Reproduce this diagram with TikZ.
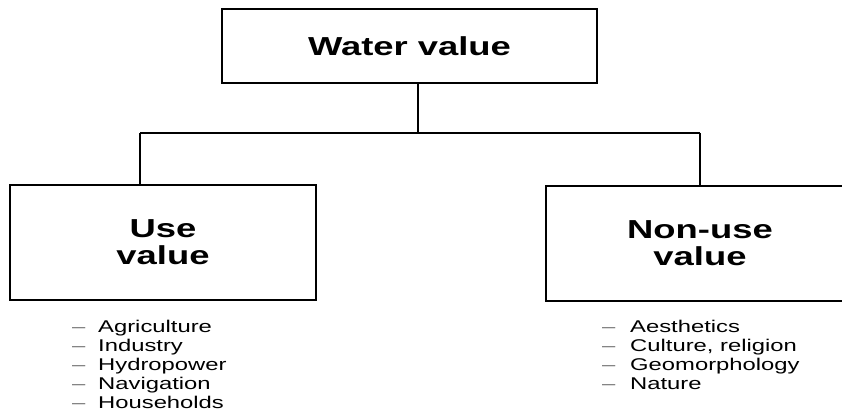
\documentclass[tikz,border=0pt]{standalone}
\usepackage{fontspec}
\setmainfont{Liberation Sans}[FakeStretch=1.4]
\usepackage{tikz}

\begin{document}
\begin{tikzpicture}[x=1pt,y=1pt]
\tikzstyle{box}=[draw, line width=1.6pt, inner sep=0pt, align=center,
  font=\fontsize{26}{27}\selectfont\bfseries]
\tikzstyle{link}=[line width=1.6pt]
\tikzstyle{item}=[anchor=west, inner sep=0pt, text height=12pt, text depth=3.5pt,
  font=\fontsize{17}{19}\selectfont]
\useasboundingbox (0,0) rectangle (842,-414);
\node at (409.5,-46) [box, minimum width=375pt, minimum height=74pt] (water) {Water value};
\node at (163,-242.5) [box, minimum width=306pt, minimum height=115pt] (use) {Use\\value};
\node at (700,-243.5) [box, minimum width=308pt, minimum height=115pt] (nonuse) {Non-use\\value};
\coordinate (split) at (418,-133);
\coordinate (uselink) at (140,-133);
\coordinate (nonuselink) at (700,-133);
\draw[link] (water.south -| split) -- (split);
\draw[link] (uselink) -- (nonuselink);
\draw[link] (uselink) -- (uselink |- use.north);
\draw[link] (nonuselink) -- (nonuse.north);
\foreach \name [count=\i] in {Agriculture,Industry,Hydropower,Navigation,Households}
  \node[item] at (72,{-309-19*\i}) (useitem\i) {\makebox[26pt][l]{\textcolor{black!55}{--}}\name};
\foreach \name [count=\i] in {Aesthetics,{Culture, religion},Geomorphology,Nature}
  \node[item] at (602,{-309-19*\i}) (nonuseitem\i) {\makebox[28pt][l]{\textcolor{black!55}{--}}\name};
\end{tikzpicture}
\end{document}
